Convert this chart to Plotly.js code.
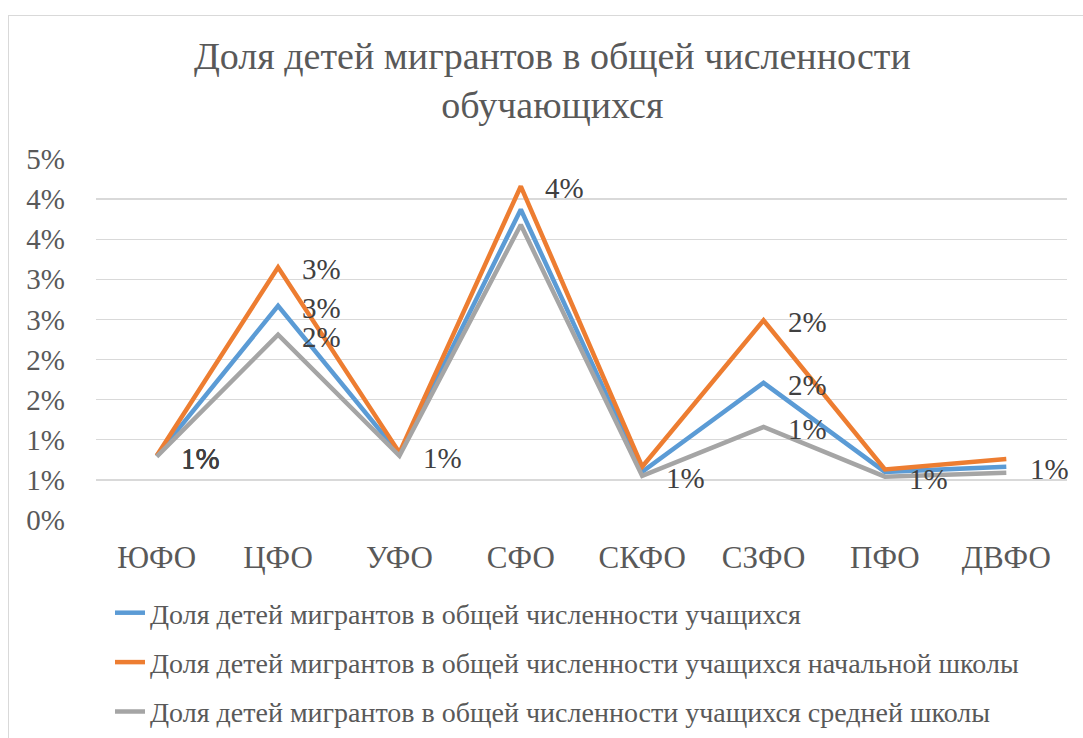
<!DOCTYPE html>
<html>
<head>
<meta charset="utf-8">
<script src="https://cdn.plot.ly/plotly-3.0.1.min.js"></script>
<style>
html,body{margin:0;padding:0;background:#fff;}
#wrap{position:relative;width:1083px;height:738px;overflow:hidden;}
#frame{position:absolute;left:8px;top:15px;width:1200px;height:900px;border:1.5px solid #d9d9d9;box-sizing:border-box;pointer-events:none;}
#chart{position:absolute;left:0;top:0;width:1083px;height:738px;}
</style>
</head>
<body>
<div id="wrap"><div id="chart"></div><div id="frame"></div></div>
<script>
// ---- data ----
const categories = ["ЮФО","ЦФО","УФО","СФО","СКФО","СЗФО","ПФО","ДВФО"];
const seriesNames = [
  "Доля детей мигрантов в общей численности учащихся",
  "Доля детей мигрантов в общей численности учащихся начальной школы",
  "Доля детей мигрантов в общей численности учащихся средней школы"
];
// values in percent
const shareAll     = [0.80, 2.67, 0.82, 3.87, 0.60, 1.71, 0.60, 0.665];
const sharePrimary = [0.80, 3.15, 0.84, 4.16, 0.665, 2.49, 0.63, 0.76];
const shareSecondary = [0.79, 2.31, 0.80, 3.68, 0.55, 1.16, 0.54, 0.59];
// which data labels are visible in the original
const labelAll       = [1,1,0,0,0,1,0,1];
const labelPrimary   = [1,1,0,1,0,1,0,0];
const labelSecondary = [1,1,1,0,1,1,1,0];
const yTickValues = [0,0.5,1,1.5,2,2.5,3,3.5,4,4.5];

// ---- styles ----
const colors = ["#5B9BD5","#ED7D31","#A5A5A5"];
const FONT = "Liberation Serif, Times New Roman, serif";

const allValues = [shareAll, sharePrimary, shareSecondary];
const allLabels = [labelAll, labelPrimary, labelSecondary];

const traces = allValues.map((vals, i) => ({
  type: "scatter",
  mode: "lines",
  x: categories,
  y: vals,
  name: seriesNames[i],
  legendgroup: "g" + i,
  line: {color: colors[i], width: 4.5, shape: "linear"},
  hoverinfo: "skip"
}));

const annotations = [];
allValues.forEach((vals, i) => {
  vals.forEach((v, j) => {
    if (allLabels[i][j]) {
      annotations.push({
        x: categories[j], y: v, xref: "x", yref: "y",
        text: Math.round(v) + "%",
        showarrow: false, xanchor: "left", yanchor: "middle",
        xshift: 22, yshift: -2,
        font: {family: FONT, size: 29, color: "#404040"}
      });
    }
  });
});

// plot area: top 159px, bottom 520px; paper spans 159..738
const PAPER_H = 738 - 159;
const layout = {
  width: 1083, height: 738,
  paper_bgcolor: "rgba(0,0,0,0)",
  plot_bgcolor: "rgba(0,0,0,0)",
  font: {family: FONT, color: "#595959"},
  margin: {l: 96, r: 16, t: 159, b: 0, autoexpand: false},
  title: {
    text: "Доля детей мигрантов в общей численности<br>обучающихся",
    font: {family: FONT, size: 38, color: "#595959"},
    x: 0.51, xanchor: "center", xref: "container",
    y: 1 - 69/738, yanchor: "top", yref: "container"
  },
  xaxis: {
    type: "category",
    range: [-0.5, 7.5],
    showgrid: false,
    showline: false,
    zeroline: false,
    ticks: "",
    ticklabelstandoff: 16,
    tickfont: {family: FONT, size: 31, color: "#595959"},
    fixedrange: true
  },
  yaxis: {
    domain: [(738 - 520) / PAPER_H, 1],
    range: [0, 4.5],
    tickvals: yTickValues,
    ticktext: yTickValues.map(v => Math.round(v) + "%"),
    showgrid: true, gridcolor: "#d9d9d9", gridwidth: 1.3,
    zeroline: false, showline: false, ticks: "",
    ticklabelstandoff: 30,
    tickfont: {family: FONT, size: 29, color: "#595959"},
    fixedrange: true
  },
  showlegend: true,
  legend: {
    orientation: "v",
    x: 14 / 971, xanchor: "left",
    y: (738 - 588) / PAPER_H, yanchor: "top",
    font: {family: FONT, size: 28, color: "#595959"},
    tracegroupgap: 10,
    bgcolor: "rgba(0,0,0,0)"
  },
  annotations: annotations
};

Plotly.newPlot("chart", traces, layout, {displayModeBar: false, staticPlot: true});
</script>
</body>
</html>
